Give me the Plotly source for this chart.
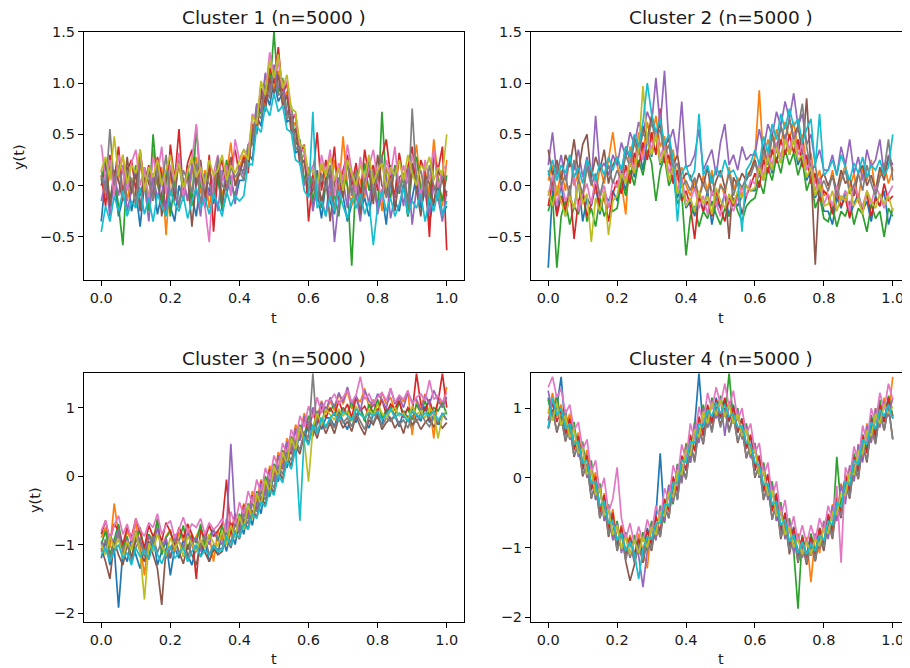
import numpy as np
import plotly.graph_objects as go

COLORS = ["#1f77b4", "#ff7f0e", "#2ca02c", "#d62728", "#9467bd",
          "#8c564b", "#e377c2", "#7f7f7f", "#bcbd22", "#17becf"]
TITLES = ["Cluster 1 (n=5000 )", "Cluster 2 (n=5000 )",
          "Cluster 3 (n=5000 )", "Cluster 4 (n=5000 )"]
X_TICKS = [0.0, 0.2, 0.4, 0.6, 0.8, 1.0]
X_TICK_TEXT = ["0.0", "0.2", "0.4", "0.6", "0.8", "1.0"]
Y_TICKS_TOP = [-0.5, 0.0, 0.5, 1.0, 1.5]
Y_TICK_TEXT_TOP = ["\u22120.5", "0.0", "0.5", "1.0", "1.5"]
Y_TICKS_BOT = [-2, -1, 0, 1]
Y_TICK_TEXT_BOT = ["\u22122", "\u22121", "0", "1"]

# ---------------- Cluster 1 ----------------
c1_blue = [-0.35, 0.10, -0.22, 0.05, -0.30, -0.12, 0.18, -0.25, -0.05, -0.40, 0.02, -0.18, 0.12, -0.28, -0.08, 0.15, -0.20, -0.35, 0.00, -0.15, 0.20, -0.10, -0.30, 0.05, -0.22, -0.02, -0.18, 0.10, -0.25, -0.08, 0.08, -0.15, 0.05,
           0.05, 0.32, 0.25, 0.68, 0.58, 0.92, 0.78, 1.02, 0.82, 0.90, 0.62, 0.65, 0.32, 0.35, 0.02, 0.12,
           -0.20, -0.05, -0.32, 0.02, -0.15, -0.28, 0.05, -0.10, -0.35, -0.18, 0.08, -0.25, -0.12, -0.30, 0.00, -0.20, -0.08, -0.38, 0.05, -0.15, -0.25, 0.02, -0.30, -0.12, 0.10, -0.22, -0.05, -0.35, -0.15, 0.00, -0.28, -0.20]
c1_orange = [0.15, -0.10, 0.25, -0.05, 0.10, 0.30, -0.15, 0.08, -0.20, 0.20, 0.05, -0.12, 0.35, 0.00, 0.18, -0.48, 0.10, -0.05, 0.22, 0.02, -0.15, 0.12, 0.28, -0.08, 0.15, -0.22, 0.05, 0.20, -0.10, 0.10, 0.42, 0.00, 0.18,
             0.30, 0.15, 0.55, 0.50, 0.92, 0.75, 1.10, 0.95, 1.12, 0.82, 0.92, 0.55, 0.62, 0.25, 0.30, -0.05,
             0.10, -0.15, 0.20, 0.05, -0.10, 0.25, -0.05, 0.48, 0.00, -0.20, 0.15, 0.05, -0.12, 0.22, -0.02, 0.10, -0.25, 0.18, 0.02, -0.08, 0.30, 0.05, -0.15, 0.12, 0.40, -0.05, 0.15, -0.10, 0.45, 0.08, -0.20, 0.25]
c1_green = [0.05, 0.25, -0.15, 0.10, -0.20, -0.58, 0.15, -0.05, 0.20, -0.10, 0.08, -0.25, 0.50, 0.02, -0.18, 0.12, -0.30, 0.05, 0.22, -0.08, 0.15, -0.20, 0.58, 0.00, -0.12, 0.18, -0.05, 0.10, -0.22, 0.25, 0.02, -0.10, 0.15,
            0.15, 0.38, 0.42, 0.78, 0.70, 1.08, 0.92, 1.50, 0.90, 1.05, 0.70, 0.78, 0.40, 0.45, 0.05, 0.18,
            -0.15, 0.10, -0.22, 0.05, 0.18, -0.10, -0.30, 0.12, 0.00, -0.78, 0.08, -0.18, 0.22, -0.05, 0.15, -0.25, 0.72, 0.02, -0.12, 0.20, -0.08, 0.10, -0.30, 0.15, 0.28, -0.05, 0.08, -0.20, 0.32, 0.05, -0.15, 0.10]
c1_red = [0.10, -0.20, 0.30, 0.05, 0.38, -0.10, 0.15, 0.25, -0.05, 0.35, 0.00, 0.20, -0.15, 0.28, 0.10, -0.25, 0.40, 0.05, 0.55, -0.10, 0.22, 0.35, 0.00, 0.15, -0.20, 0.30, -0.45, 0.12, 0.25, -0.05, 0.20, 0.35, 0.10,
          0.28, 0.12, 0.60, 0.55, 0.95, 0.80, 1.15, 1.00, 1.35, 0.88, 1.00, 0.62, 0.70, 0.30, 0.40, -0.35,
          0.10, 0.52, -0.05, 0.25, 0.05, 0.38, -0.15, 0.15, 0.30, 0.00, 0.22, -0.10, 0.35, 0.08, 0.20, -0.05, 0.28, 0.45, 0.10, -0.12, 0.32, 0.05, 0.18, 0.38, -0.08, 0.25, 0.12, -0.50, 0.30, 0.15, 0.38, -0.63]
c1_purple = [-0.15, 0.05, -0.30, 0.10, -0.10, 0.20, -0.25, -0.05, 0.15, -0.20, 0.02, -0.35, 0.10, -0.12, 0.05, -0.28, 0.18, -0.08, -0.20, 0.08, -0.15, 0.22, -0.05, -0.30, 0.12, -0.10, 0.00, -0.25, 0.15, -0.05, 0.10, -0.18, 0.20,
             0.10, 0.40, 0.45, 0.80, 0.72, 1.10, 0.90, 1.18, 0.95, 1.02, 0.68, 0.72, 0.35, 0.40, 0.00, 0.10,
             -0.25, 0.00, -0.12, -0.30, 0.08, -0.55, -0.15, 0.05, -0.22, 0.12, -0.08, -0.35, 0.02, -0.18, 0.15, -0.28, -0.05, 0.10, -0.32, -0.10, 0.05, -0.20, 0.18, -0.38, -0.02, -0.15, 0.08, -0.28, 0.00, -0.12, -0.35, -0.05]
c1_brown = [0.00, 0.20, -0.20, 0.15, 0.05, -0.15, 0.28, -0.08, 0.12, -0.25, 0.18, 0.02, -0.10, 0.22, -0.30, 0.08, 0.15, -0.15, 0.30, -0.05, 0.10, -0.40, 0.05, 0.25, -0.12, 0.15, -0.02, 0.20, -0.18, 0.08, 0.28, 0.00, 0.12,
            0.25, 0.18, 0.55, 0.52, 0.90, 0.72, 1.05, 0.90, 1.08, 0.78, 0.88, 0.52, 0.55, 0.20, 0.25, -0.10,
            -0.05, 0.15, -0.20, 0.08, -0.35, 0.02, 0.18, -0.12, 0.25, -0.08, 0.10, -0.28, 0.05, 0.15, -0.18, 0.30, 0.00, -0.10, 0.20, -0.25, 0.08, 0.12, -0.15, 0.22, -0.05, -0.30, 0.10, 0.02, -0.20, 0.15, 0.05, -0.10]
c1_pink = [0.40, 0.05, 0.25, -0.10, 0.30, 0.15, -0.05, 0.22, 0.35, 0.00, 0.18, -0.15, 0.28, 0.10, 0.38, -0.08, 0.20, 0.05, 0.32, -0.12, 0.15, 0.25, 0.60, 0.08, -0.20, -0.55, 0.12, 0.30, 0.05, 0.20, -0.10, 0.45, 0.25,
           0.35, 0.30, 0.70, 0.62, 1.00, 0.90, 1.30, 1.05, 1.20, 0.95, 1.02, 0.70, 0.68, 0.38, 0.32, 0.08,
           0.20, -0.05, 0.30, 0.10, 0.35, -0.10, 0.22, 0.05, 0.40, 0.15, -0.08, 0.28, 0.00, 0.18, 0.35, 0.05, -0.15, 0.25, 0.10, 0.38, -0.05, 0.20, 0.02, 0.30, 0.12, -0.10, 0.25, 0.05, 0.35, -0.02, 0.15, 0.20]
c1_gray = [0.10, -0.05, 0.55, 0.00, 0.20, -0.12, 0.15, 0.05, -0.20, 0.25, -0.02, 0.12, -0.15, 0.18, 0.00, 0.30, -0.10, 0.08, -0.22, 0.15, 0.05, -0.08, 0.22, -0.18, 0.10, 0.02, -0.12, 0.28, 0.00, -0.05, 0.18, 0.08, 0.15,
           0.05, 0.35, 0.40, 0.72, 0.65, 0.98, 0.85, 1.12, 0.88, 0.92, 0.65, 0.70, 0.35, 0.38, 0.02, 0.12,
           0.05, -0.15, 0.12, -0.05, 0.20, -0.25, 0.08, 0.00, 0.22, -0.10, 0.15, -0.20, 0.05, 0.25, -0.08, 0.10, 0.30, -0.12, 0.02, 0.18, -0.05, 0.12, -0.22, 0.75, 0.05, 0.15, -0.10, 0.20, 0.00, -0.15, 0.10, 0.05]
c1_olive = [0.15, 0.28, 0.05, 0.48, 0.10, 0.30, 0.02, 0.20, 0.12, 0.35, -0.05, 0.18, 0.08, 0.25, 0.00, 0.15, 0.30, 0.05, 0.22, -0.02, 0.12, 0.28, 0.08, 0.18, 0.02, 0.25, 0.10, 0.15, 0.30, 0.05, 0.20, 0.12, 0.25,
            0.35, 0.25, 0.68, 0.60, 1.02, 0.88, 1.22, 1.05, 1.28, 0.95, 1.08, 0.75, 0.72, 0.40, 0.38, 0.12,
            0.15, 0.02, 0.22, 0.10, 0.28, 0.05, 0.18, -0.05, 0.25, 0.12, 0.00, 0.20, 0.08, 0.30, 0.02, 0.15, 0.22, -0.02, 0.18, 0.10, 0.25, 0.05, 0.30, 0.12, 0.00, 0.20, 0.15, 0.28, 0.05, 0.18, 0.10, 0.50]
c1_cyan = [-0.45, -0.20, -0.35, -0.10, -0.25, -0.05, -0.30, -0.15, -0.22, -0.02, -0.28, -0.12, -0.35, -0.08, -0.20, -0.30, -0.05, -0.18, -0.25, -0.10, -0.32, -0.15, -0.02, -0.22, -0.12, -0.28, -0.08, -0.18, -0.30, -0.05, -0.20, -0.10, -0.15,
           -0.10, 0.22, 0.20, 0.58, 0.52, 0.78, 0.68, 0.90, 0.72, 0.78, 0.55, 0.52, 0.25, 0.22, -0.05, -0.12,
           0.72, -0.22, -0.15, -0.30, -0.10, -0.25, -0.05, -0.20, -0.32, -0.12, -0.22, -0.08, -0.28, -0.15, -0.58, -0.20, -0.05, -0.25, -0.12, -0.30, -0.18, -0.02, -0.28, -0.15, -0.22, -0.08, -0.35, -0.12, -0.25, -0.05, -0.30, -0.15]

# ---------------- Cluster 2 ----------------
c2_blue = [-0.80, -0.05, -0.25, 0.02, -0.30, -0.10, -0.22, 0.05, -0.35, -0.12, -0.20, 0.00, -0.28, -0.08, -0.15, -0.05,
           -0.15, 0.10, -0.05, 0.25, 0.08, 0.38, 0.15, 0.45, 0.28, 0.50, 0.20, 0.35, 0.05, 0.18, -0.12, 0.02, -0.22,
           -0.15, -0.30, -0.10, -0.25, -0.05, -0.38, -0.15, -0.22, -0.08, -0.30, -0.12, -0.20, -0.10, 0.00, -0.05,
           -0.05, 0.15, 0.05, 0.28, 0.12, 0.38, 0.22, 0.45, 0.30, 0.45, 0.20, 0.32, 0.05, 0.15, -0.12, -0.02, -0.25,
           -0.25, -0.38, -0.12, -0.22, -0.05, -0.30, -0.18, -0.08, -0.25, -0.15, -0.35, -0.10, -0.20, -0.05, -0.38, -0.22]
c2_orange = [0.05, 0.20, -0.10, 0.15, -0.05, 0.30, 0.00, 0.12, -0.15, 0.22, 0.05, -0.08, 0.18, 0.02, 0.25, 0.52,
             0.20, 0.02, -0.28, 0.38, 0.20, 0.52, 0.30, 0.62, 0.42, 0.68, 0.38, 0.48, 0.22, 0.35, 0.05, 0.18, 0.00,
             -0.10, 0.05, -0.15, 0.10, -0.05, 0.15, -0.20, 0.02, -0.10, 0.18, -0.05, 0.08, -0.12, 0.10, 0.15,
             0.28, 0.93, 0.22, 0.45, 0.30, 0.55, 0.40, 0.62, 0.45, 0.62, 0.35, 0.50, 0.20, 0.32, 0.02, 0.15, -0.10,
             -0.05, 0.15, -0.10, 0.08, 0.20, -0.02, 0.12, -0.15, 0.18, 0.05, 0.25, -0.08, 0.10, 0.22, 0.02, 0.15]
c2_green = [-0.25, -0.10, -0.80, -0.30, -0.15, -0.38, -0.20, -0.28, -0.05, -0.35, -0.22, -0.40, -0.12, -0.30, -0.18, -0.25,
            -0.22, 0.05, -0.10, 0.15, 0.00, 0.25, 0.10, 0.35, 0.22, -0.15, 0.15, 0.28, 0.00, 0.10, -0.18, -0.08, -0.68,
            -0.30, -0.20, -0.40, -0.25, -0.32, -0.15, -0.28, -0.38, -0.22, -0.30, -0.12, -0.25, -0.35, -0.20, -0.15,
            -0.12, 0.05, -0.08, 0.18, 0.05, 0.28, 0.12, 0.35, 0.20, 0.32, 0.10, 0.25, -0.05, 0.08, -0.22, -0.10, -0.32,
            -0.35, -0.20, -0.40, -0.25, -0.30, -0.15, -0.38, -0.22, -0.28, -0.45, -0.18, -0.32, -0.25, -0.50, -0.22, -0.30]
c2_red = [-0.20, 0.05, -0.30, -0.10, -0.25, 0.00, -0.52, -0.15, -0.05, -0.30, -0.18, 0.02, -0.22, -0.10, -0.35, -0.08,
          0.05, -0.08, 0.20, 0.02, 0.32, 0.18, 0.42, 0.25, 0.52, 0.30, 0.75, 0.22, 0.30, 0.02, 0.15, -0.15, -0.05,
          -0.20, -0.52, -0.10, -0.25, -0.15, -0.30, -0.05, -0.22, -0.35, -0.12, -0.20, -0.08, -0.28, -0.10, 0.00,
          0.12, -0.02, 0.25, 0.12, 0.35, 0.22, 0.45, 0.30, 0.50, 0.32, 0.45, 0.18, 0.30, 0.02, 0.12, -0.15, -0.05,
          -0.10, -0.28, -0.05, -0.20, -0.12, -0.32, 0.00, -0.15, -0.25, -0.08, -0.30, -0.12, -0.20, 0.02, -0.15, -0.10]
c2_purple = [0.20, 0.52, 0.10, 0.30, 0.05, 0.25, 0.15, 0.35, 0.08, 0.28, 0.02, 0.68, 0.15, 0.22, 0.10, 0.30,
             0.20, 0.42, 0.28, 0.52, 0.40, 0.62, 0.50, 0.72, 0.60, 1.05, 0.58, 1.12, 0.42, 0.55, 0.30, 0.82, 0.18,
             0.20, 0.30, 0.55, 0.15, 0.25, 0.35, 0.10, 0.42, 0.60, 0.20, 0.30, 0.15, 0.38, 0.25, 0.30,
             0.30, 0.55, 0.35, 0.60, 0.48, 0.72, 0.58, 0.82, 0.65, 0.90, 0.58, 0.70, 0.40, 0.50, 0.22, 0.35, 0.15,
             0.15, 0.30, 0.10, 0.38, 0.20, 0.45, 0.12, 0.28, 0.05, 0.35, 0.18, 0.25, 0.45, 0.10, 0.30, 0.20]
c2_brown = [0.35, 0.10, 0.25, 0.05, 0.30, 0.18, 0.45, 0.12, 0.40, 0.50, 0.08, 0.28, 0.15, 0.35, 0.02, 0.20,
            0.28, 0.12, 0.38, 0.25, 0.48, 0.35, 0.58, 0.45, 0.68, 0.50, 0.60, 0.35, 0.48, 0.20, 0.30, 0.05, 0.12,
            0.10, -0.05, 0.12, 0.00, 0.18, -0.10, 0.05, 0.15, -0.02, -0.52, 0.08, 0.00, 0.12, 0.05, 0.15,
            0.25, 0.10, 0.38, 0.22, 0.50, 0.35, 0.58, 0.42, 0.65, 0.48, 0.58, 0.32, 0.85, 0.18, -0.77, 0.05, 0.12,
            0.00, 0.10, -0.05, 0.15, 0.02, 0.08, -0.10, 0.12, 0.20, 0.00, 0.10, -0.05, 0.18, 0.05, 0.28, 0.15]
c2_pink = [-0.10, 0.10, -0.20, 0.05, -0.15, -0.05, 0.12, -0.25, -0.08, 0.02, -0.18, 0.08, -0.12, 0.00, -0.22, 0.05,
           -0.02, 0.20, 0.05, 0.28, 0.15, 0.40, 0.25, 0.50, 0.35, 0.55, 0.28, 0.40, 0.12, 0.25, -0.05, 0.08, -0.15,
           -0.15, -0.02, -0.22, -0.10, -0.28, -0.05, -0.18, -0.30, -0.08, -0.15, -0.25, -0.12, -0.02, -0.10, 0.05,
           0.02, 0.22, 0.10, 0.32, 0.20, 0.42, 0.28, 0.50, 0.35, 0.52, 0.30, 0.40, 0.15, 0.25, -0.05, 0.08, -0.18,
           -0.08, -0.20, 0.00, -0.15, -0.05, -0.25, 0.02, -0.12, -0.20, -0.05, -0.18, 0.00, -0.10, -0.22, -0.08, 0.00]
c2_gray = [0.15, -0.05, 0.20, 0.00, 0.10, -0.12, 0.25, 0.05, -0.08, 0.18, 0.00, 0.12, -0.10, 0.08, 0.20, 0.02,
           0.15, 0.05, 0.30, 0.18, 0.42, 0.30, 0.52, 0.42, 0.62, 0.45, 0.55, 0.30, 0.40, 0.15, 0.22, -0.02, 0.05,
           -0.05, 0.08, -0.12, 0.02, -0.08, 0.10, -0.15, 0.00, -0.05, 0.12, -0.10, 0.05, -0.02, 0.08, 0.10,
           0.22, 0.08, 0.35, 0.20, 0.48, 0.32, 0.58, 0.45, 0.65, 0.45, 0.55, 0.80, 0.38, 0.15, 0.20, -0.05, 0.05,
           -0.05, 0.10, -0.12, 0.05, 0.15, -0.08, 0.00, 0.12, -0.05, 0.20, 0.02, -0.10, 0.08, 0.15, 0.45, 0.05]
c2_olive = [-0.05, -0.20, 0.00, -0.15, -0.30, -0.10, -0.22, 0.02, -0.18, -0.08, -0.55, -0.12, -0.25, -0.05, -0.48, -0.15,
            -0.10, 0.12, 0.02, 0.22, 0.12, 0.35, 0.97, 0.42, 0.30, 0.50, 0.22, 0.35, 0.05, 0.18, -0.08, 0.02, -0.20,
            -0.12, -0.25, -0.05, -0.18, -0.10, -0.28, -0.02, -0.15, -0.22, -0.08, -0.18, -0.05, -0.12, 0.00, -0.05,
            -0.02, 0.18, 0.05, 0.28, 0.15, 0.38, 0.22, 0.45, 0.30, 0.45, 0.25, 0.30, 0.08, 0.18, -0.10, 0.02, -0.20,
            -0.18, -0.05, -0.25, -0.10, -0.15, -0.02, -0.20, -0.12, -0.28, -0.05, -0.15, -0.22, -0.08, -0.18, -0.10, -0.25]
c2_cyan = [0.10, 0.25, 0.05, 0.20, 0.12, 0.30, 0.08, 0.18, 0.02, 0.25, 0.15, 0.05, 0.22, 0.10, 0.28, 0.15,
           0.28, 0.15, 0.38, 0.28, 0.50, 0.38, 0.62, 1.00, 0.70, 0.52, 0.65, 0.40, 0.50, 0.25, -0.35, 0.12, 0.20,
           0.05, 0.15, 0.70, 0.10, 0.20, 0.02, 0.18, 0.08, 0.25, 0.12, 0.15, 0.05, -0.45, 0.15, 0.22,
           0.35, 0.20, 0.48, 0.32, 0.60, 0.45, 0.70, 0.55, 0.75, 0.58, 0.65, 0.42, 0.55, 0.65, 0.18, 0.70, 0.10,
           0.15, 0.25, 0.10, 0.30, 0.18, 0.05, 0.22, 0.12, 0.28, 0.08, 0.20, 0.15, 0.25, 0.10, 0.18, 0.50]

# ---------------- Cluster 3 ----------------
c3_blue = [-1.20, -0.95, -1.30, -1.05, -1.92, -1.10, -1.25, -0.90, -1.15, -1.35, -1.00, -1.20, -0.85, -1.30, -1.10, -0.95, -1.45, -1.05, -1.20, -0.92, -1.15, -1.30, -1.02, -1.18, -0.95, -1.25, -1.08, -1.12,
           -0.85, -1.10, -0.80, -1.00, -0.65, -0.85, -0.50, -0.72, -0.35, -0.55, -0.12, -0.30, 0.05, -0.08, 0.28, 0.12, 0.48, 0.30, 0.68, 0.50, 0.80, 0.58, 0.88, 0.68, 0.85,
           0.85, 0.72, 0.95, 0.80, 0.68, 0.90, 0.78, 1.00, 0.82, 0.70, 0.92, 0.85, 0.75, 0.98, 0.80, 0.88, 0.72, 0.95, 0.85, 0.68, 0.90, 0.80, 1.02, 0.78, 0.88, 0.75, 0.92, 0.82]
c3_orange = [-0.90, -0.75, -1.05, -0.40, -0.85, -1.10, -0.80, -0.95, -0.70, -1.00, -1.45, -0.85, -0.92, -0.65, -1.05, -0.88, -0.78, -1.10, -0.82, -0.95, -0.70, -1.02, -0.88, -0.75, -0.98, -0.85, -1.25, -0.80,
             -0.95, -0.62, -0.88, -0.55, -0.75, -0.40, -0.58, -0.22, -0.38, -0.05, -0.25, 0.15, -0.02, 0.35, 0.18, 0.55, 0.40, 0.75, 0.60, 0.92, 0.72, 1.00, 0.85, 1.10, 0.92,
             1.10, 0.95, 1.20, 1.05, 1.25, 0.98, 1.15, 1.08, 1.28, 1.00, 1.12, 0.90, 1.22, 1.05, 1.15, 0.95, 1.18, 1.08, 1.25, 0.60, 1.10, 1.00, 1.20, 1.05, 0.55, 1.15, 1.02, 1.30]
c3_green = [-1.00, -0.80, -1.15, -0.92, -0.70, -1.05, -0.88, -1.20, -0.95, -0.75, -1.10, -0.85, -1.00, -0.62, -1.15, -0.90, -0.80, -1.05, -0.95, -0.72, -1.08, -0.85, -0.98, -0.70, -1.02, -0.88, -0.78, -0.95,
            -0.72, -1.00, -0.68, -0.90, -0.55, -0.75, -0.40, -0.60, -0.22, -0.42, 0.00, -0.20, 0.18, 0.00, 0.38, 0.22, 0.58, 0.40, 0.75, 0.58, 0.88, 0.68, 0.95, 0.78, 1.00,
            0.95, 1.05, 0.85, 1.00, 0.90, 1.10, 0.88, 0.98, 0.80, 1.05, 0.92, 1.12, 0.85, 0.95, 1.02, 0.88, 1.08, 0.90, 0.98, 0.82, 1.05, 0.92, 1.10, 0.88, 1.00, 0.95, 1.08, 0.90]
c3_red = [-0.85, -0.65, -0.95, -0.70, -0.80, -1.00, -0.75, -0.90, -0.62, -0.85, -1.05, -0.72, -0.88, -0.78, -0.95, -0.68, -0.82, -1.00, -0.75, -0.90, -0.70, -0.85, -1.50, -0.78, -0.92, -0.72, -0.88, -0.80,
          -0.70, -0.05, -0.85, -0.55, -0.78, -0.42, -0.62, -0.28, -0.48, -0.08, -0.28, 0.10, -0.08, 0.30, 0.10, 0.48, 0.32, 0.68, 0.52, 0.85, 0.65, 0.95, 0.75, 1.02, 0.85,
          1.00, 0.88, 1.10, 0.92, 1.05, 0.85, 1.15, 0.95, 1.02, 0.88, 1.08, 0.95, 1.12, 0.90, 1.05, 0.98, 1.10, 0.85, 1.00, 0.92, 1.50, 1.05, 0.95, 1.12, 0.88, 1.08, 1.50, 1.00]
c3_purple = [-0.95, -1.10, -0.85, -1.00, -0.78, -1.15, -0.92, -1.05, -0.80, -0.98, -1.12, -0.88, -1.02, -0.75, -1.08, -0.90, -1.20, -0.85, -0.95, -1.05, -0.82, -0.98, -0.90, -1.10, -0.85, -1.00, -0.78, -0.92,
             -1.00, -0.78, 0.47, -0.62, -0.80, -0.45, -0.62, -0.30, -0.45, -0.10, -0.28, 0.08, -0.08, 0.30, 0.12, 0.50, 0.35, 0.70, 0.52, 0.88, 0.70, 1.00, 0.82, 1.08, 0.95,
             1.15, 1.00, 1.22, 1.08, 1.30, 1.05, 1.18, 0.95, 1.25, 1.10, 1.02, 1.20, 1.12, 0.98, 1.28, 1.05, 1.15, 1.00, 1.22, 1.08, 1.12, 0.95, 1.18, 1.05, 1.25, 1.10, 1.00, 1.15]
c3_brown = [-1.05, -1.25, -1.50, -0.95, -1.15, -1.30, -1.00, -1.20, -0.88, -1.10, -1.25, -0.95, -1.15, -1.35, -1.88, -1.05, -1.20, -0.92, -1.10, -1.28, -1.00, -1.15, -1.30, -0.98, -1.12, -1.25, -1.05, -1.15,
            -1.10, -0.88, -1.05, -0.80, -0.92, -0.62, -0.78, -0.50, -0.60, -0.30, -0.42, -0.12, -0.25, 0.08, -0.05, 0.28, 0.15, 0.45, 0.32, 0.62, 0.48, 0.72, 0.55, 0.80, 0.62,
            0.78, 0.62, 0.85, 0.70, 0.80, 0.65, 0.88, 0.72, 0.60, 0.82, 0.75, 0.90, 0.68, 0.78, 0.85, 0.70, 0.80, 0.62, 0.88, 0.75, 0.82, 0.68, 0.78, 0.85, 0.72, 0.80, 0.70, 0.78]
c3_pink = [-0.80, -0.65, -0.92, -0.72, -0.58, -0.85, -0.70, -0.95, -0.62, -0.78, -0.88, -0.68, -0.75, -0.55, -0.85, -0.72, -0.65, -0.90, -0.78, -0.60, -0.82, -0.70, -0.75, -0.62, -0.85, -0.68, -0.78, -0.72,
           -0.62, -0.85, -0.52, -0.72, -0.38, -0.58, -0.22, -0.40, -0.05, -0.25, 0.12, -0.05, 0.30, 0.12, 0.48, 0.32, 0.68, 0.50, 0.88, 0.72, 1.02, 0.85, 1.15, 0.92, 1.10,
           1.10, 1.20, 1.05, 1.15, 1.25, 1.08, 1.18, 1.45, 1.12, 1.20, 1.05, 1.15, 1.22, 1.10, 1.28, 1.08, 1.18, 1.12, 1.25, 1.05, 1.15, 1.20, 1.10, 1.40, 1.12, 1.18, 1.08, 1.22]
c3_gray = [-1.10, -0.92, -1.20, -1.00, -0.85, -1.15, -0.98, -1.25, -1.05, -0.90, -1.18, -1.02, -0.88, -1.12, -0.95, -1.20, -1.05, -0.92, -1.15, -1.00, -1.22, -0.95, -1.10, -1.02, -0.88, -1.15, -1.00, -1.08,
           -1.05, -0.82, -0.98, -0.70, -0.85, -0.55, -0.70, -0.40, -0.52, -0.22, -0.35, -0.05, -0.18, 0.15, 0.02, 0.35, 0.22, 0.52, 0.38, 0.65, 0.55, 1.50, 0.62, 0.82, 0.70,
           0.82, 0.70, 0.90, 0.78, 0.85, 0.72, 0.92, 0.80, 0.68, 0.88, 0.78, 0.95, 0.72, 0.85, 0.80, 0.90, 0.75, 0.82, 0.70, 0.88, 0.78, 0.92, 0.80, 0.72, 0.85, 0.78, 0.90, 0.82]
c3_olive = [-1.00, -1.15, -0.88, -1.05, -0.92, -1.20, -0.95, -1.08, -0.82, -1.12, -1.80, -0.98, -1.10, -0.85, -1.02, -1.15, -0.90, -1.05, -0.95, -1.18, -0.88, -1.00, -1.10, -0.92, -1.05, -0.85, -0.98, -1.02,
            -0.80, -1.00, -0.72, -0.90, -0.58, -0.78, -0.42, -0.62, -0.25, -0.42, -0.05, -0.25, 0.15, -0.02, 0.35, 0.18, 0.55, 0.38, 0.72, 0.52, -0.08, 0.70, 0.92, 0.75, 0.98,
            0.90, 0.82, 0.98, 0.88, 0.95, 0.80, 1.02, 0.90, 0.85, 0.98, 0.88, 1.05, 0.92, 0.85, 0.95, 1.00, 0.88, 0.92, 0.82, 1.02, 0.90, 0.95, 0.85, 1.00, 0.92, 0.55, 0.88, 0.95]
c3_cyan = [-1.15, -1.05, -1.25, -1.10, -1.00, -1.20, -1.12, -1.30, -1.05, -1.18, -1.08, -1.22, -1.00, -1.15, -1.28, -1.10, -1.02, -1.20, -1.12, -1.05, -1.25, -1.10, -1.00, -1.18, -1.08, -1.15, -1.02, -1.10,
           -1.08, -0.88, -1.02, -0.82, -0.90, -0.70, -0.78, -0.55, -0.62, -0.38, -0.45, -0.20, -0.28, 0.02, -0.10, 0.22, 0.10, 0.40, -0.65, 0.58, 0.45, 0.75, 0.62, 0.85, 0.72,
           0.85, 0.92, 0.80, 0.95, 0.88, 0.82, 0.98, 0.90, 0.85, 0.92, 0.88, 0.95, 0.82, 0.90, 0.98, 0.85, 0.92, 0.88, 0.80, 0.95, 0.90, 0.85, 0.92, 0.88, 0.95, 0.82, 0.90, 0.92]

# ---------------- Cluster 4 ----------------
c4_blue = [1.15, 0.85, 1.02, 1.45, 0.68, 0.90, 0.45, 0.62, 0.12, 0.35, -0.15, 0.02, -0.45, -0.28, -0.78, -0.55, -0.95, -0.72, -1.12, -0.88,
           -1.20, -0.85, -1.10, -0.72, -0.95, -0.55, 0.35, -0.62, -0.15, -0.32, 0.15, -0.05, 0.45, 0.22, 0.75, 1.50, 0.68, 1.02, 0.80, 1.15,
           0.85, 1.12, 0.80, 1.05, 0.65, 0.85, 0.42, 0.60, 0.15, 0.30, -0.18, 0.05, -0.45, -0.25, -0.75, -0.52, -0.98, -0.70, -1.15, -0.85,
           -1.12, -0.82, -1.18, -0.75, -0.98, -0.55, -0.78, -0.30, -0.45, 0.02, -0.15, 0.32, 0.12, 0.62, 0.40, 0.88, 0.62, 1.05, 0.82, 1.12, 0.88]
c4_orange = [0.92, 1.22, 0.88, 1.05, 0.70, 0.92, 0.48, 0.65, 0.20, 0.40, -0.10, 0.08, -0.48, -0.22, -0.72, -0.45, -0.92, -0.68, -1.08, -0.82,
             -1.12, -0.80, -1.05, -1.30, -0.65, -0.88, -0.42, -0.60, -0.12, -0.35, 0.18, -0.02, 0.50, 0.25, 0.78, 0.55, 1.02, 0.75, 1.12, 0.90,
             1.15, 0.88, 1.10, 0.78, 0.95, 0.58, 0.75, 0.30, 0.48, 0.02, 0.20, -0.28, -0.08, -0.60, -0.38, -0.85, -0.60, -1.05, -0.80, -1.12,
             -0.85, -1.50, -0.82, -1.08, -0.62, -0.85, -0.38, -0.62, -0.08, -0.30, 0.15, -0.05, 0.48, 0.25, 0.78, 0.52, 1.00, 0.75, 1.15, 0.92, 1.45]
c4_green = [1.12, 0.85, 1.20, 0.78, 0.98, 0.55, 0.80, 0.32, 0.52, 0.02, 0.25, -0.30, -0.08, -0.62, -0.38, -0.88, -0.62, -1.05, -0.78, -1.15,
            -0.82, -1.10, -0.78, -1.05, -0.62, -0.88, -0.40, -0.65, -0.10, -0.38, 0.20, -0.05, 0.48, 0.22, 0.80, 0.52, 1.05, 0.72, 1.15, 0.88,
            1.18, 0.88, 1.50, 0.80, 1.00, 0.58, 0.78, 0.30, 0.50, 0.00, 0.22, -0.30, -0.05, -0.62, -0.35, -0.88, -0.58, -1.05, -1.88, -0.82,
            -1.15, -0.80, -1.08, -0.72, -0.95, -0.52, -0.78, 0.30, -0.42, 0.02, -0.20, 0.35, 0.10, 0.62, 0.38, 0.90, 0.62, 1.12, 0.80, 1.18, 0.88]
c4_red = [0.82, 1.08, 0.80, 0.98, 0.62, 0.85, 0.40, 0.60, 0.12, 0.32, -0.18, 0.02, -0.50, -0.25, -0.75, -0.50, -1.00, -0.70, -1.12, -0.85,
          -1.10, -0.88, -1.15, -0.75, -0.98, -0.55, -0.78, -0.30, -0.48, 0.02, -0.20, 0.32, 0.10, 0.62, 0.38, 0.88, 0.60, 1.05, 0.78, 1.12,
          0.88, 1.15, 0.82, 1.02, 0.65, 0.85, 0.42, 0.62, 0.10, 0.32, -0.20, 0.05, -0.48, -0.22, -0.78, -0.50, -1.00, -0.72, -1.10, -0.85,
          -1.15, -0.85, -1.12, -0.72, -0.98, -0.52, -0.80, -0.28, -0.50, 0.05, -0.22, 0.30, 0.08, 0.60, 0.35, 0.85, 0.58, 1.05, 0.80, 1.15, 0.85]
c4_purple = [1.25, 0.90, 1.08, 0.75, 0.92, 0.55, 0.72, 0.30, 0.45, 0.00, 0.15, -0.32, -0.12, -0.62, -0.40, -0.90, -0.65, -1.08, -0.80, -1.15,
             -0.88, -1.12, -1.57, -1.05, -0.68, -0.90, -0.42, -0.62, -0.12, -0.35, 0.18, -0.08, 0.45, 0.22, 0.78, 0.50, 1.00, 0.72, 1.12, 0.85,
             1.15, 0.60, 1.10, 0.78, 0.98, 0.55, 0.75, 0.28, 0.48, 0.00, 0.18, -0.32, -0.10, -0.62, -0.40, -0.88, -0.62, -1.08, -0.82, -1.15,
             -0.88, -1.12, -0.80, -1.02, -0.62, -0.88, -0.40, -0.62, -0.10, -0.38, 0.18, -0.05, 0.48, 0.22, 0.75, 0.50, 1.00, 0.72, 1.10, 0.88, 1.15]
c4_brown = [0.72, 0.98, 0.65, 0.88, 0.52, 0.75, 0.30, 0.50, 0.02, 0.20, -0.30, -0.08, -0.58, -0.35, -0.85, -0.60, -1.05, -0.78, -1.20, -1.48,
            -1.25, -0.95, -1.22, -0.88, -1.05, -0.65, -0.85, -0.40, -0.58, -0.10, -0.30, 0.18, -0.02, 0.48, 0.25, 0.72, 0.48, 0.92, 0.68, 1.02,
            0.75, 1.00, 0.68, 0.90, 0.50, 0.72, 0.28, 0.48, 0.00, 0.18, -0.32, -0.08, -0.60, -0.35, -0.88, -0.62, -1.10, -0.80, -1.22, -0.95,
            -1.25, -0.95, -1.20, -0.85, -1.05, -0.62, -0.88, -0.38, -0.58, -0.08, -0.30, 0.18, -0.02, 0.48, 0.22, 0.75, 0.50, 0.95, 0.68, 1.02, 0.55]
c4_pink = [1.30, 1.45, 1.15, 1.28, 0.92, 1.05, 0.68, 0.80, 0.40, 0.55, 0.08, 0.25, -0.22, 0.00, -0.50, -0.30, 0.15, -0.58, -0.88, -0.65,
           -0.95, -0.70, -0.92, -0.60, -0.80, -0.40, -0.62, -0.15, -0.32, 0.18, -0.02, 0.48, 0.25, 0.78, 0.55, 1.02, 0.78, 1.22, 0.98, 1.30,
           1.05, 1.35, 1.02, 1.25, 0.82, 1.00, 0.62, 0.78, 0.35, 0.50, 0.02, 0.22, -0.28, -0.05, -0.55, -0.32, -0.80, -0.55, -0.92, -0.68,
           -0.95, -0.68, -0.90, -0.58, -0.78, -0.40, -0.60, -0.12, -1.22, 0.15, -0.02, 0.45, 0.22, 0.75, 0.52, 1.00, 0.78, 1.22, 0.98, 1.35, 1.12]
c4_gray = [0.70, 0.95, 0.68, 0.85, 0.55, 0.72, 0.32, 0.48, 0.05, 0.18, -0.28, -0.10, -0.58, -0.32, -0.82, -0.60, -1.05, -0.78, -1.18, -0.90,
           -1.22, -0.95, -1.18, -0.85, -1.02, -0.65, -0.85, -0.38, -0.58, -0.05, -0.32, 0.20, -0.02, 0.48, 0.22, 0.72, 0.50, 0.92, 0.65, 1.00,
           0.72, 0.98, 0.65, 0.88, 0.52, 0.70, 0.30, 0.45, 0.02, 0.15, -0.30, -0.12, -0.60, -0.35, -0.85, -0.62, -1.05, -0.80, -1.20, -0.95,
           -1.22, -0.92, -1.18, -0.82, -1.00, -0.62, -0.85, -0.38, -0.55, -0.05, -0.28, 0.20, 0.00, 0.50, 0.25, 0.72, 0.48, 0.95, 0.68, 1.02, 0.55]
c4_olive = [0.98, 0.82, 1.08, 0.75, 0.90, 0.58, 0.70, 0.35, 0.42, 0.05, 0.12, -0.25, -0.15, -0.55, -0.45, -0.82, -0.68, -1.02, -0.85, -1.10,
            -0.90, -1.08, -0.85, -1.00, -0.70, -0.82, -0.48, -0.55, -0.20, -0.28, 0.10, 0.05, 0.40, 0.32, 0.70, 0.58, 0.95, 0.78, 1.08, 0.90,
            1.12, 0.88, 1.05, 0.78, 0.92, 0.60, 0.70, 0.35, 0.40, 0.05, 0.10, -0.25, -0.18, -0.55, -0.48, -0.82, -0.70, -1.00, -0.88, -1.10,
            -0.92, -1.10, -0.88, -0.98, -0.72, -0.80, -0.50, -0.52, -0.22, -0.25, 0.08, 0.05, 0.38, 0.35, 0.68, 0.60, 0.92, 0.78, 1.05, 0.92, 1.02]
c4_cyan = [0.72, 1.15, 0.90, 1.00, 0.70, 0.78, 0.48, 0.52, 0.22, 0.25, -0.08, -0.05, -0.40, -0.35, -0.65, -0.62, -0.90, -0.80, -1.05, -0.92,
           -1.08, -1.45, -1.02, -0.85, -0.88, -0.65, -0.65, -0.38, -0.40, -0.08, -0.08, 0.25, 0.22, 0.52, 0.50, 0.78, 0.72, 0.98, 0.88, 1.08,
           0.92, 1.05, 0.88, 0.92, 0.72, 0.75, 0.50, 0.48, 0.22, 0.18, -0.10, -0.08, -0.38, -0.35, -0.68, -0.60, -0.92, -0.82, -1.08, -0.92,
           -1.10, -0.95, -1.05, -0.82, -0.90, -0.62, -0.68, -0.35, -0.42, -0.05, -0.10, 0.25, 0.20, 0.55, 0.48, 0.80, 0.70, 0.98, 0.88, 1.05, 0.85]

CLUSTER1 = [c1_blue, c1_orange, c1_green, c1_red, c1_purple, c1_brown, c1_pink, c1_gray, c1_olive, c1_cyan]
CLUSTER2 = [c2_blue, c2_orange, c2_green, c2_red, c2_purple, c2_brown, c2_pink, c2_gray, c2_olive, c2_cyan]
CLUSTER3 = [c3_blue, c3_orange, c3_green, c3_red, c3_purple, c3_brown, c3_pink, c3_gray, c3_olive, c3_cyan]
CLUSTER4 = [c4_blue, c4_orange, c4_green, c4_red, c4_purple, c4_brown, c4_pink, c4_gray, c4_olive, c4_cyan]
CLUSTERS = [CLUSTER1, CLUSTER2, CLUSTER3, CLUSTER4]

# The page body adds an 8px margin, so the figure is laid out 8px smaller
OFF = 8
W, H = 910 - OFF, 668 - OFF
FONT = "DejaVu Sans"
TXT = "#1a1a1a"

fig = go.Figure()
suffix = ["", "2", "3", "4"]
for k, lines in enumerate(CLUSTERS):
    for j, vals in enumerate(lines):
        t = np.linspace(0.0, 1.0, len(vals))
        fig.add_trace(go.Scatter(
            x=t, y=vals, mode="lines",
            line=dict(color=COLORS[j], width=1.7),
            xaxis="x" + suffix[k], yaxis="y" + suffix[k],
            showlegend=False, hoverinfo="skip"))

# axis boxes in window pixels (left, right, top, bottom)
boxes = [(84, 464, 31.7, 280), (531, 910, 31.7, 280),
         (84, 464, 373.3, 622), (531, 910, 373.3, 622)]
yranges = [[-0.92, 1.5], [-0.92, 1.5], [-2.13, 1.5], [-2.07, 1.5]]

common = dict(showline=True, mirror=True, linecolor="black", linewidth=1.1,
              ticks="outside", ticklen=5, tickwidth=1.1, tickcolor="black",
              showgrid=False, zeroline=False, automargin=False,
              tickfont=dict(family=FONT, size=14.5, color=TXT))

layout = dict(width=W, height=H, margin=dict(l=0, r=0, t=0, b=0, autoexpand=False),
              paper_bgcolor="white", plot_bgcolor="white",
              font=dict(family=FONT, color=TXT), showlegend=False)


def px(x):
    return (x - OFF) / W


def py(y):
    return 1 - (y - OFF) / H


annotations = []
for k, (l, r, tp, bt) in enumerate(boxes):
    s = suffix[k]
    xd = [max(px(l), 0.0), min(px(r), 1.0)]
    yd = [py(bt), py(tp)]
    top_row = k < 2
    layout["xaxis" + s] = dict(domain=xd, range=[-0.05, 1.05], anchor="y" + s,
                               tickvals=X_TICKS, ticktext=X_TICK_TEXT, **common)
    layout["yaxis" + s] = dict(domain=yd, range=yranges[k], anchor="x" + s,
                               tickvals=Y_TICKS_TOP if top_row else Y_TICKS_BOT,
                               ticktext=Y_TICK_TEXT_TOP if top_row else Y_TICK_TEXT_BOT,
                               **common)
    cx = px(l + 190)
    annotations.append(dict(text=TITLES[k], x=cx, y=py(17.5 if top_row else 358),
                            xref="paper", yref="paper", xanchor="center", yanchor="middle",
                            showarrow=False, font=dict(family=FONT, size=18.5, color=TXT)))
    annotations.append(dict(text="t", x=cx, y=py(318 if top_row else 659),
                            xref="paper", yref="paper", xanchor="center", yanchor="middle",
                            showarrow=False, font=dict(family=FONT, size=14.5, color=TXT)))

annotations.append(dict(text="y(t)", x=px(19), y=py(157), xref="paper", yref="paper",
                        xanchor="center", yanchor="middle", textangle=-90, showarrow=False,
                        font=dict(family=FONT, size=14.5, color=TXT)))
annotations.append(dict(text="y(t)", x=px(35), y=py(500), xref="paper", yref="paper",
                        xanchor="center", yanchor="middle", textangle=-90, showarrow=False,
                        font=dict(family=FONT, size=14.5, color=TXT)))
layout["annotations"] = annotations

fig.update_layout(**layout)
fig.write_html("out.html")
